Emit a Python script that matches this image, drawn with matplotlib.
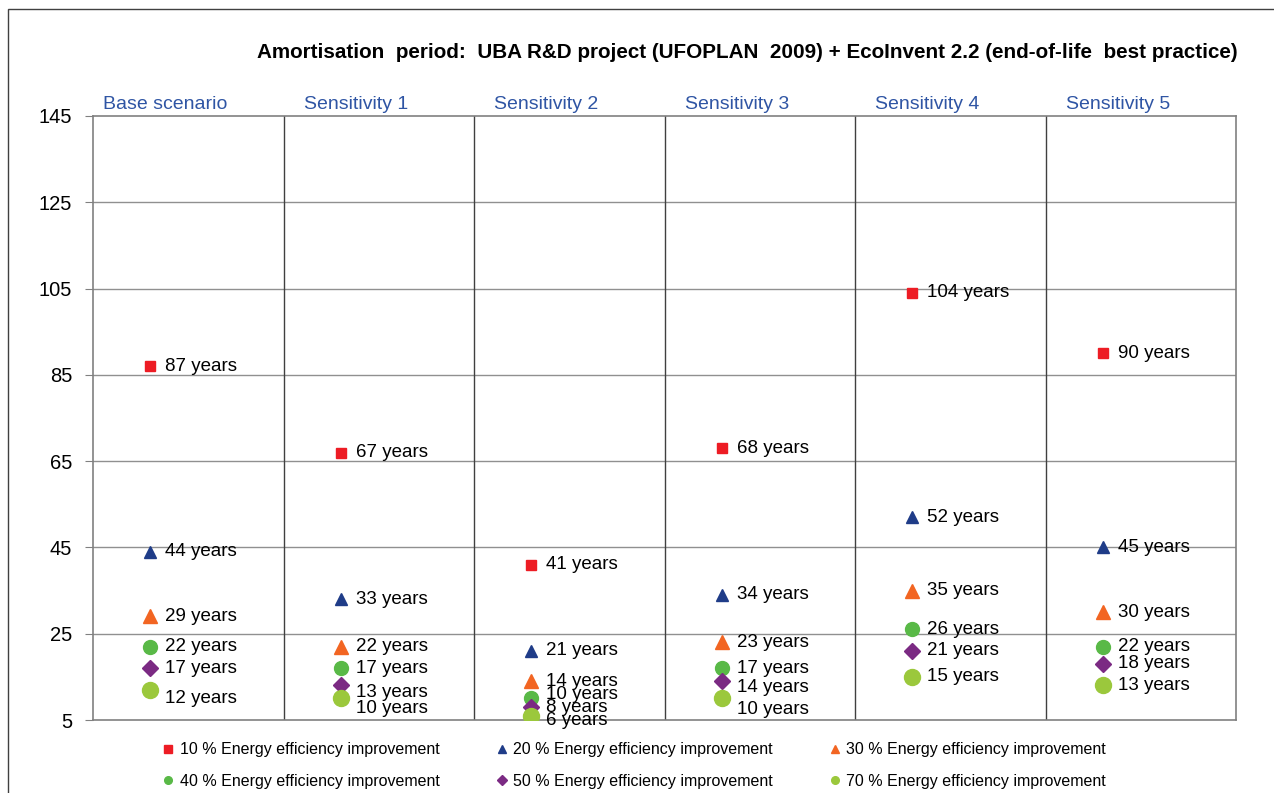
import numpy as np
import matplotlib
matplotlib.use("Agg")
import matplotlib.pyplot as plt
from matplotlib.lines import Line2D
from matplotlib.patches import Rectangle

plt.rcParams['font.family'] = ['Liberation Sans', 'DejaVu Sans']

# data
scenarios = ['Base scenario', 'Sensitivity 1', 'Sensitivity 2',
             'Sensitivity 3', 'Sensitivity 4', 'Sensitivity 5']
series_names = ['10 % Energy efficiency improvement', '20 % Energy efficiency improvement',
                '30 % Energy efficiency improvement', '40 % Energy efficiency improvement',
                '50 % Energy efficiency improvement', '70 % Energy efficiency improvement']
eff10 = [87, 67, 41, 68, 104, 90]
eff20 = [44, 33, 21, 34, 52, 45]
eff30 = [29, 22, 14, 23, 35, 30]
eff40 = [22, 17, 10, 17, 26, 22]
eff50 = [17, 13, 8, 14, 21, 18]
eff70 = [12, 10, 6, 10, 15, 13]
yticks = [5, 25, 45, 65, 85, 105, 125, 145]
title = 'Amortisation  period:  UBA R&D project (UFOPLAN  2009) + EcoInvent 2.2 (end-of-life  best practice)'

series = [eff10, eff20, eff30, eff40, eff50, eff70]
colors = ['#ED1C24', '#1F3C88', '#F26522', '#59B947', '#7B2A83', '#9BC83C']
markers = ['s', '^', '^', 'o', 'D', 'o']
msizes = [7.5, 9, 10.5, 10, 8.5, 11.5]
legsizes = [6, 6, 6, 5.5, 5, 5.5]
# label nudges in pixels (down positive): (series index, scenario index) -> dy
nudge = {(5, 0): 9, (4, 1): 7, (5, 1): 10, (3, 2): -4, (5, 2): 5,
         (4, 3): 6, (5, 3): 11}

W, H = 1274, 793
fig = plt.figure(figsize=(W / 100, H / 100), dpi=100)
fig.patches.append(Rectangle((8 / W, -0.01), 1.02, 1 - 9 / H + 0.01, transform=fig.transFigure,
                             fill=False, edgecolor='#404040', lw=1))

ax = fig.add_axes([93 / W, 1 - 720 / H, (1236 - 93) / W, (720 - 116) / H])
ax.set_xlim(0, 6)
ax.set_ylim(5, 145)
ax.set_yticks(yticks)
ax.tick_params(axis='y', labelsize=14.5, length=6, color='#808080', pad=9)
ax.set_xticks([])
for s in ax.spines.values():
    s.set_color('#808080')
    s.set_linewidth(1.2)
for y in yticks[1:-1]:
    ax.axhline(y, color='#909090', lw=1, zorder=0)
for i in range(1, 6):
    ax.axvline(i, color='#404040', lw=1, zorder=0)

xpos = np.arange(len(scenarios)) + 0.3
for k, (vals, c, m, ms) in enumerate(zip(series, colors, markers, msizes)):
    ax.plot(xpos, vals, linestyle='none', marker=m, color=c, ms=ms, zorder=3)
    for j, (x, v) in enumerate(zip(xpos, vals)):
        dy = -nudge.get((k, j), 0) * 0.72
        ax.annotate('%d years' % v, (x, v), xytext=(11, dy), textcoords='offset points',
                    ha='left', va='center', fontsize=13.5, zorder=4)

for i, name in enumerate(scenarios):
    ax.text(i + 0.38, 145.7, name, ha='center', va='bottom', fontsize=14,
            color='#2F55A4')

fig.text(1238 / W, 1 - 52 / H, title, ha='right', va='center', fontsize=14.9,
         fontweight='bold')

handles = [Line2D([], [], linestyle='none', marker=m, color=c, ms=s)
           for m, c, s in zip(markers, colors, legsizes)]
order = [0, 3, 1, 4, 2, 5]
fig.legend([handles[k] for k in order], [series_names[k] for k in order],
           ncol=3, loc='center', bbox_to_anchor=(634 / W, 1 - 765.5 / H),
           frameon=False, fontsize=11.5, handlelength=0.8, handletextpad=0.3,
           columnspacing=3.5, labelspacing=1.05)

fig.savefig('out.png', dpi=100)
